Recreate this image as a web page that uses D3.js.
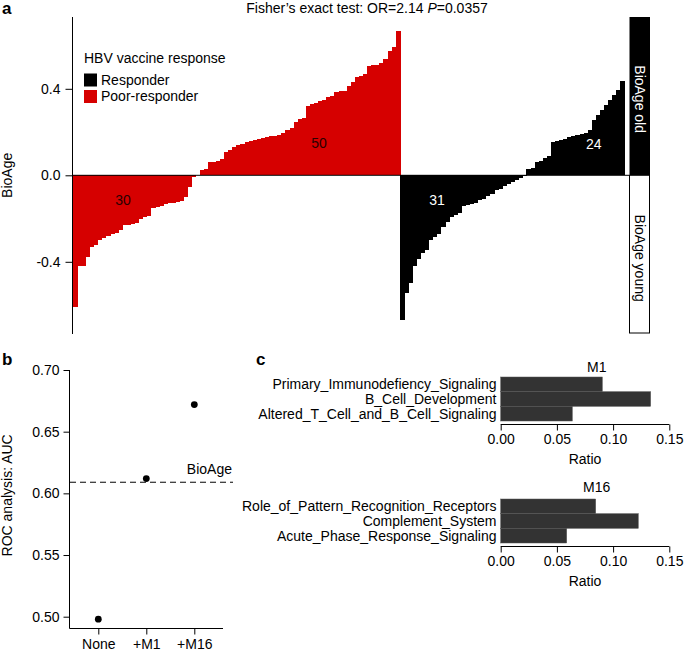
<!DOCTYPE html>
<html>
<head>
<meta charset="utf-8">
<script src="https://cdn.jsdelivr.net/npm/d3@7/dist/d3.min.js"></script>
<style>
  html, body { margin: 0; padding: 0; background: #fff; }
  svg { display: block; font-family: "Liberation Sans", Arial, Helvetica, sans-serif; }
</style>
</head>
<body>
<svg id="chart" width="685" height="657"></svg>
<script>
// ---------------- DATA ----------------
// Panel a: BioAge per subject, sorted, by vaccine response group
const poorResponderBioAge = [
  -0.61, -0.42, -0.42, -0.38, -0.333, -0.32, -0.30, -0.29, -0.28, -0.27,
  -0.265, -0.253, -0.23, -0.228, -0.225, -0.22, -0.20, -0.195, -0.19, -0.15,
  -0.145, -0.14, -0.135, -0.13, -0.128, -0.125, -0.12, -0.10, -0.053, -0.01,
  0.003, 0.025, 0.03, 0.06, 0.062, 0.065, 0.075, 0.11, 0.118, 0.13,
  0.14, 0.145, 0.155, 0.16, 0.162, 0.168, 0.172, 0.176, 0.18, 0.183,
  0.186, 0.195, 0.21, 0.22, 0.245, 0.26, 0.265, 0.32, 0.33, 0.335,
  0.345, 0.35, 0.36, 0.365, 0.385, 0.39, 0.392, 0.415, 0.43, 0.455,
  0.46, 0.47, 0.505, 0.51, 0.512, 0.52, 0.54, 0.575, 0.595, 0.665
];
const responderBioAge = [
  -0.667, -0.545, -0.50, -0.42, -0.385, -0.36, -0.345, -0.30, -0.285, -0.27,
  -0.24, -0.215, -0.195, -0.185, -0.175, -0.14, -0.138, -0.135, -0.13, -0.115,
  -0.11, -0.095, -0.085, -0.07, -0.065, -0.05, -0.04, -0.03, -0.022, -0.012,
  -0.004,
  0.03, 0.035, 0.062, 0.066, 0.082, 0.088, 0.153, 0.158, 0.163, 0.17,
  0.178, 0.182, 0.186, 0.19, 0.196, 0.21, 0.256, 0.28, 0.30, 0.325,
  0.348, 0.37, 0.394, 0.435
];
const bioAgeTicks = [-0.4, 0.0, 0.4];
const bioAgeTickLabels = ["-0.4", "0.0", "0.4"];
const legendGroups = ["Responder", "Poor-responder"];
const bioAgeClasses = ["BioAge old", "BioAge young"];
const fisherTitle = { prefix: "Fisher\u2019s exact test: OR=2.14 ", p: "P", suffix: "=0.0357" };

// Panel b: ROC AUC
const rocModels = ["None", "+M1", "+M16"];
const rocAUC = [0.498, 0.612, 0.672];
const bioAgeAUC = 0.609;
const rocTicks = [0.50, 0.55, 0.60, 0.65, 0.70];

// Panel c: pathway enrichment ratios
const m1Pathways = ["Primary_Immunodefiency_Signaling", "B_Cell_Development", "Altered_T_Cell_and_B_Cell_Signaling"];
const m1Ratios = [0.0904, 0.1334, 0.0637];
const m16Pathways = ["Role_of_Pattern_Recognition_Receptors", "Complement_System", "Acute_Phase_Response_Signaling"];
const m16Ratios = [0.0845, 0.1224, 0.0587];
const ratioTicks = [0.00, 0.05, 0.10, 0.15];

// ---------------- DRAW ----------------
const svg = d3.select("#chart");
const FS = 14;
const RED = "#d60000";

// ---- Panel a ----
const bars = poorResponderBioAge.map(v => ({ v, g: "Poor-responder" }))
  .concat(responderBioAge.map(v => ({ v, g: "Responder" })));
const xA = d3.scaleBand().domain(d3.range(bars.length)).range([73, 624.5]).padding(0);
const yA = d3.scaleLinear().domain([-0.4, 0.4]).range([261.8, 88.8]);
const colorA = d3.scaleOrdinal().domain(legendGroups).range(["#000000", RED]);

const gA = svg.append("g");
gA.selectAll("rect.bar").data(bars).join("rect")
  .attr("class", "bar")
  .attr("shape-rendering", "crispEdges")
  .attr("x", (d, i) => xA(i))
  .attr("width", (d, i) => i === bars.length - 1 ? xA.bandwidth() : xA.bandwidth() + 0.8)
  .attr("y", d => Math.min(yA(d.v), yA(0)))
  .attr("height", d => Math.abs(yA(d.v) - yA(0)))
  .attr("fill", d => colorA(d.g));

// zero line
gA.append("line").attr("x1", 72).attr("x2", 629).attr("y1", yA(0)).attr("y2", yA(0))
  .attr("stroke", "#000").attr("stroke-width", 1);

// y axis
const axA = gA.append("g").attr("transform", "translate(72.5,0)")
  .call(d3.axisLeft(yA).tickValues(bioAgeTicks).tickSize(7).tickPadding(5)
    .tickFormat((d, i) => bioAgeTickLabels[i]));
axA.select(".domain").remove();
axA.selectAll("text").attr("font-size", FS).attr("font-family", null).attr("fill", "#000");
axA.selectAll("line").attr("stroke", "#000");
gA.append("line").attr("x1", 72.5).attr("x2", 72.5).attr("y1", 17).attr("y2", 334)
  .attr("stroke", "#000");
gA.append("text").attr("transform", `translate(12,${yA(0)}) rotate(-90)`)
  .attr("text-anchor", "middle").attr("font-size", FS).text("BioAge");

// counts
const nRedNeg = poorResponderBioAge.filter(v => v < 0).length;
const nRedPos = poorResponderBioAge.length - nRedNeg;
const nBlkNeg = responderBioAge.filter(v => v < 0).length;
const nBlkPos = responderBioAge.length - nBlkNeg;
const countLabels = [
  { n: nRedNeg, idx: 12.25, v: -0.115, c: "#2a0000" },
  { n: nRedPos, idx: 60.2, v: 0.148, c: "#2a0000" },
  { n: nBlkNeg, idx: 89.1, v: -0.115, c: "#fff" },
  { n: nBlkPos, idx: 127.5, v: 0.145, c: "#fff" }
];
gA.selectAll("text.count").data(countLabels).join("text")
  .attr("class", "count")
  .attr("x", d => xA.range()[0] + d.idx * xA.step())
  .attr("y", d => yA(d.v))
  .attr("dy", "0.35em").attr("text-anchor", "middle").attr("font-size", FS)
  .attr("fill", d => d.c).text(d => d.n);

// BioAge old / young boxes
gA.append("rect").attr("x", 629.5).attr("y", 17).attr("width", 20.5).attr("height", yA(0) - 17)
  .attr("fill", "#000");
gA.append("rect").attr("x", 629.5).attr("y", yA(0)).attr("width", 20).attr("height", 333 - yA(0))
  .attr("fill", "#fff").attr("stroke", "#000").attr("stroke-width", 1);
gA.append("text").attr("transform", `translate(640,${(17 + yA(0)) / 2 + 3}) rotate(90)`)
  .attr("text-anchor", "middle").attr("dy", "0.35em").attr("font-size", FS).attr("fill", "#fff")
  .text(bioAgeClasses[0]);
gA.append("text").attr("transform", `translate(640,${(333 + yA(0)) / 2 + 4}) rotate(90)`)
  .attr("text-anchor", "middle").attr("dy", "0.35em").attr("font-size", FS).attr("fill", "#000")
  .text(bioAgeClasses[1]);

// legend
const leg = gA.append("g").attr("transform", "translate(84,0)");
leg.append("text").attr("x", 0).attr("y", 58).attr("dy", "0.35em").attr("font-size", FS)
  .text("HBV vaccine response");
legendGroups.forEach((g, i) => {
  leg.append("rect").attr("x", 0).attr("y", 73.5 + i * 16.5).attr("width", 13).attr("height", 13)
    .attr("fill", colorA(g));
  leg.append("text").attr("x", 17).attr("y", 80 + i * 16.5).attr("dy", "0.35em").attr("font-size", FS)
    .text(g);
});

// title
const tt = svg.append("text").attr("x", 367).attr("y", 13).attr("text-anchor", "middle").attr("font-size", FS);
tt.append("tspan").text(fisherTitle.prefix);
tt.append("tspan").attr("font-style", "italic").text(fisherTitle.p);
tt.append("tspan").text(fisherTitle.suffix);

// panel letters
[["a", 2, 14], ["b", 2, 365], ["c", 256, 365]].forEach(([t, x, y]) => {
  svg.append("text").attr("x", x).attr("y", y).attr("font-size", 17).attr("font-weight", "bold").text(t);
});

// ---- Panel b ----
const xB = d3.scalePoint().domain(rocModels).range([98.3, 194.3]);
const yB = d3.scaleLinear().domain([0.50, 0.70]).range([616.7, 370]);
const gB = svg.append("g");
const axB = gB.append("g").attr("transform", "translate(69.5,0)")
  .call(d3.axisLeft(yB).tickValues(rocTicks).tickSize(6).tickPadding(4).tickFormat(d3.format(".2f")));
axB.select(".domain").remove();
axB.selectAll("text").attr("font-size", FS).attr("font-family", null).attr("fill", "#000");
axB.selectAll("line").attr("stroke", "#000");
gB.append("path").attr("d", `M69.5,${yB(0.70)}V628.5H223`).attr("fill", "none").attr("stroke", "#000");
const axBx = gB.append("g").attr("transform", "translate(0,628.5)")
  .call(d3.axisBottom(xB).tickSize(6).tickPadding(5));
axBx.select(".domain").remove();
axBx.selectAll("text").attr("font-size", FS).attr("font-family", null).attr("fill", "#000");
axBx.selectAll("line").attr("stroke", "#000");
gB.append("line").attr("x1", 70).attr("x2", 233).attr("y1", yB(bioAgeAUC)).attr("y2", yB(bioAgeAUC))
  .attr("stroke", "#000").attr("stroke-dasharray", "6,4");
gB.append("text").attr("x", 232).attr("y", yB(bioAgeAUC) - 13).attr("dy", "0.35em")
  .attr("text-anchor", "end").attr("font-size", FS).text("BioAge");
gB.selectAll("circle").data(rocAUC).join("circle")
  .attr("cx", (d, i) => xB(rocModels[i])).attr("cy", d => yB(d)).attr("r", 3.4).attr("fill", "#000");
gB.append("text").attr("transform", `translate(12,${(yB(0.70) + yB(0.50)) / 2 + 2}) rotate(-90)`)
  .attr("text-anchor", "middle").attr("font-size", FS).text("ROC analysis: AUC");

// ---- Panel c ----
const xC = d3.scaleLinear().domain([0, 0.15]).range([500.7, 669.3]);
function drawEnrich(names, ratios, title, top, bottom, axisY, titleY) {
  const g = svg.append("g");
  const yC = d3.scaleBand().domain(names).range([top, bottom]).padding(0);
  g.selectAll("rect").data(ratios).join("rect")
    .attr("x", xC(0)).attr("y", (d, i) => yC(names[i]))
    .attr("width", d => xC(d) - xC(0)).attr("height", yC.bandwidth())
    .attr("fill", "#333333").attr("stroke", "#555").attr("stroke-width", 0.5);
  g.selectAll("text.lab").data(names).join("text").attr("class", "lab")
    .attr("x", 496.5).attr("y", d => yC(d) + yC.bandwidth() / 2).attr("dy", "0.35em")
    .attr("text-anchor", "end").attr("font-size", FS).text(d => d);
  const ax = g.append("g").attr("transform", `translate(0,${axisY})`)
    .call(d3.axisBottom(xC).tickValues(ratioTicks).tickSize(6).tickPadding(4).tickFormat(d3.format(".2f")));
  ax.select(".domain").attr("stroke", "#000").attr("d", `M${xC(0)},0H${xC(0.15)}`);
  ax.selectAll("line").attr("stroke", "#000");
  ax.selectAll("text").attr("font-size", FS).attr("font-family", null).attr("fill", "#000");
  g.append("text").attr("x", (xC(0) + xC(0.15)) / 2).attr("y", axisY + 35).attr("dy", "0.35em")
    .attr("text-anchor", "middle").attr("font-size", FS).text("Ratio");
  g.append("text").attr("x", 596.7).attr("y", titleY).attr("dy", "0.35em")
    .attr("text-anchor", "middle").attr("font-size", FS).text(title);
}
drawEnrich(m1Pathways, m1Ratios, "M1", 377, 421, 424.5, 367);
drawEnrich(m16Pathways, m16Ratios, "M16", 499, 543, 546.5, 487.5);
</script>
</body>
</html>
